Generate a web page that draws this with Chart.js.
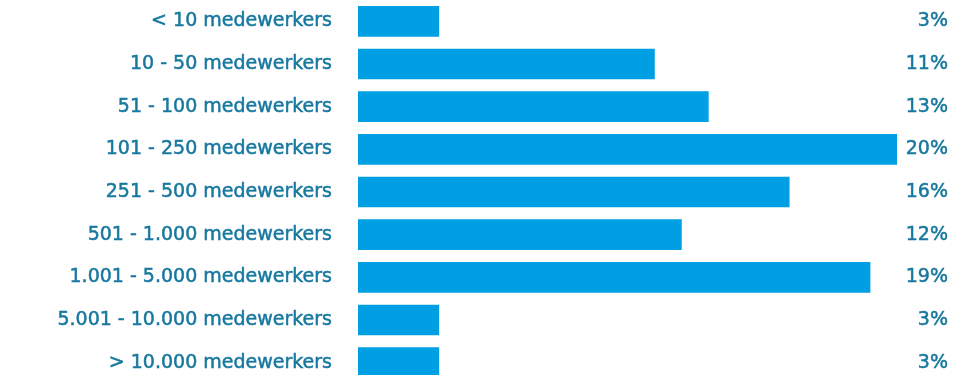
<!DOCTYPE html>
<html>
<head>
<meta charset="utf-8">
<script src="https://cdn.jsdelivr.net/npm/chart.js@4"></script>
<style>
  html, body { margin: 0; padding: 0; background: #fff; overflow: hidden; }
</style>
</head>
<body>
<canvas id="sizeChart" width="954" height="384"></canvas>
<script>
var categories = [
    '< 10 medewerkers',
    '10 - 50 medewerkers',
    '51 - 100 medewerkers',
    '101 - 250 medewerkers',
    '251 - 500 medewerkers',
    '501 - 1.000 medewerkers',
    '1.001 - 5.000 medewerkers',
    '5.001 - 10.000 medewerkers',
    '> 10.000 medewerkers'
];
var percentages = [3, 11, 13, 20, 16, 12, 19, 3, 3];

var barColor = '#009fe3';
var textColor = '#17789f';
var fontFamily = '"DejaVu Sans", sans-serif';

// percentage on the far right of every row
var valueLabels = {
    id: 'valueLabels',
    afterDatasetsDraw: function (chart) {
        var ctx = chart.ctx;
        var meta = chart.getDatasetMeta(0);
        ctx.save();
        ctx.fillStyle = textColor;
        ctx.strokeStyle = textColor;
        ctx.lineWidth = 0.5;
        ctx.font = '19px ' + fontFamily;
        ctx.textAlign = 'right';
        ctx.textBaseline = 'middle';
        meta.data.forEach(function (bar, i) {
            var label = percentages[i] + '%';
            ctx.fillText(label, chart.width - 6, bar.y);
            ctx.strokeText(label, chart.width - 6, bar.y);
        });
        ctx.restore();
    }
};

var ctx = document.getElementById('sizeChart');
var sizeChart = new Chart(ctx, {
    type: 'bar',
    data: {
        labels: categories,
        datasets: [{
            data: percentages,
            backgroundColor: barColor,
            barThickness: 30
        }]
    },
    options: {
        indexAxis: 'y',
        responsive: false,
        animation: false,
        layout: { padding: { left: 0, right: 57, top: 0, bottom: 0 } },
        plugins: {
            legend: { display: false },
            tooltip: { enabled: false }
        },
        scales: {
            x: {
                display: false,
                min: 0,
                max: 20
            },
            y: {
                grid: { display: false, drawTicks: false },
                border: { display: false },
                // fixed label column; tick padding should only push text sideways
                afterFit: function (scale) {
                    scale.width = 358;
                    scale.paddingTop = 0;
                    scale.paddingBottom = 0;
                },
                ticks: {
                    color: textColor,
                    padding: 26,
                    textStrokeColor: textColor,
                    textStrokeWidth: 0.5,
                    font: { family: fontFamily, size: 19 }
                }
            }
        }
    },
    plugins: [valueLabels]
});
</script>
</body>
</html>
